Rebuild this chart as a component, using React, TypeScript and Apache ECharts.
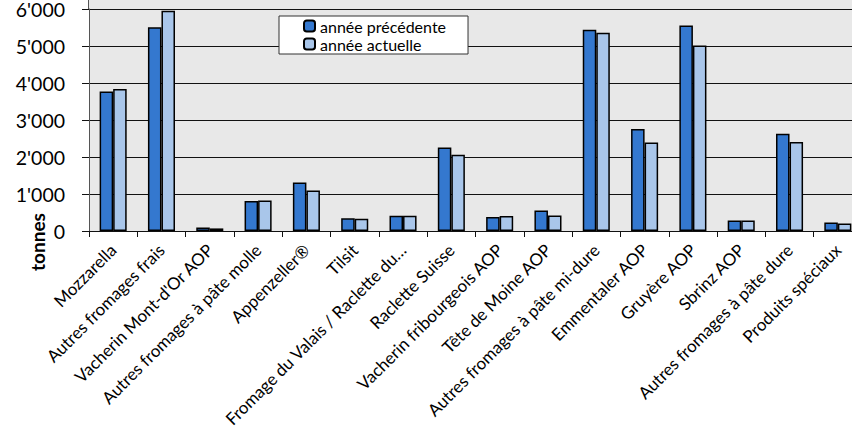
import React, { useEffect, useRef } from "react";
import * as echarts from "echarts";

const categories = [
  "Mozzarella",
  "Autres fromages frais",
  "Vacherin Mont-d'Or AOP",
  "Autres fromages à pâte molle",
  "Appenzeller®",
  "Tilsit",
  "Fromage du Valais / Raclette du…",
  "Raclette Suisse",
  "Vacherin fribourgeois AOP",
  "Tête de Moine AOP",
  "Autres fromages à pâte mi-dure",
  "Emmentaler AOP",
  "Gruyère AOP",
  "Sbrinz AOP",
  "Autres fromages à pâte dure",
  "Produits spéciaux",
];

const previousYear = [3770, 5510, 95, 810, 1310, 345, 410, 2260, 380, 555, 5440, 2755, 5555, 285, 2630, 230];
const currentYear = [3835, 5955, 70, 825, 1095, 330, 410, 2060, 405, 420, 5360, 2395, 5015, 285, 2405, 205];

const seriesNames = ["année précédente", "année actuelle"];
const yTicks = { min: 0, max: 6000, interval: 1000 };

const FONT = "Lato, 'Open Sans', sans-serif";
const CHART_W = 862;

function fmt(v: number): string {
  return String(v).replace(/\B(?=(\d{3})+(?!\d))/g, "'");
}

export default function App() {
  const ref = useRef<HTMLDivElement>(null);
  useEffect(() => {
    if (!ref.current) return;
    const chart = echarts.init(ref.current, undefined, { renderer: "svg" });
    const gridLeft = 89;
    const gridTop = 9;
    const gridBottomY = 231;
    chart.setOption({
      animation: false,
      textStyle: { fontFamily: FONT },
      grid: {
        left: gridLeft,
        top: gridTop,
        right: 0,
        height: gridBottomY - gridTop,
        containLabel: false,
        outerBoundsMode: "none",
      },
      graphic: [
        {
          type: "rect",
          z: -10,
          silent: true,
          shape: { x: gridLeft, y: 0, width: CHART_W - gridLeft, height: gridBottomY },
          style: { fill: "#e8e8e8" },
        },
        {
          type: "line",
          z: 5,
          silent: true,
          shape: { x1: gridLeft - 0.5, y1: 0, x2: gridLeft - 0.5, y2: gridTop },
          style: { stroke: "#555", lineWidth: 1 },
        },
        {
          type: "text",
          x: 37,
          y: 242,
          rotation: Math.PI / 2,
          style: {
            text: "tonnes",
            fontFamily: FONT,
            fontWeight: "bold",
            fontSize: 19,
            fill: "#000",
            align: "center",
            verticalAlign: "middle",
          },
        },
      ],
      legend: {
        orient: "vertical",
        left: 279,
        top: 16,
        width: 189,
        itemWidth: 11,
        itemHeight: 11,
        itemGap: 0,
        backgroundColor: "#fff",
        borderColor: "#333",
        borderWidth: 1,
        padding: [1, 22, 1, 24],
        align: "left",
        textStyle: { fontFamily: FONT, fontSize: 16, color: "#000", lineHeight: 18 },
        data: seriesNames,
      },
      xAxis: {
        type: "category",
        data: categories,
        axisLine: { lineStyle: { color: "#111", width: 1 } },
        axisTick: { show: true, length: 6, lineStyle: { color: "#111" } },
        axisLabel: {
          rotate: 45,
          interval: 0,
          fontFamily: FONT,
          fontSize: 17,
          color: "#000",
          margin: 16,
        },
      },
      yAxis: {
        type: "value",
        min: yTicks.min,
        max: yTicks.max,
        interval: yTicks.interval,
        axisLine: { show: true, lineStyle: { color: "#555", width: 1 } },
        axisTick: { show: true, inside: false, length: 7, lineStyle: { color: "#111" } },
        splitLine: { show: true, lineStyle: { color: "#111", width: 1 } },
        axisLabel: {
          fontFamily: FONT,
          fontSize: 19.5,
          color: "#000",
          margin: 24,
          lineHeight: 14,
          formatter: (v: number) => fmt(v),
        },
      },
      series: [
        {
          name: seriesNames[0],
          type: "bar",
          data: previousYear,
          barWidth: "28%",
          barGap: "0%",
          itemStyle: { color: "#3478cf", borderColor: "#000", borderWidth: 1.5 },
        },
        {
          name: seriesNames[1],
          type: "bar",
          data: currentYear,
          barWidth: "28%",
          barGap: "0%",
          itemStyle: { color: "#a9c6ea", borderColor: "#000", borderWidth: 1.5 },
        },
      ],
    });
    return () => chart.dispose();
  }, []);
  return (
    <div style={{ position: "absolute", left: 0, top: 0, width: 852, height: 434, overflow: "hidden", background: "#fff" }}>
      <div ref={ref} style={{ width: CHART_W, height: 434 }} />
    </div>
  );
}
